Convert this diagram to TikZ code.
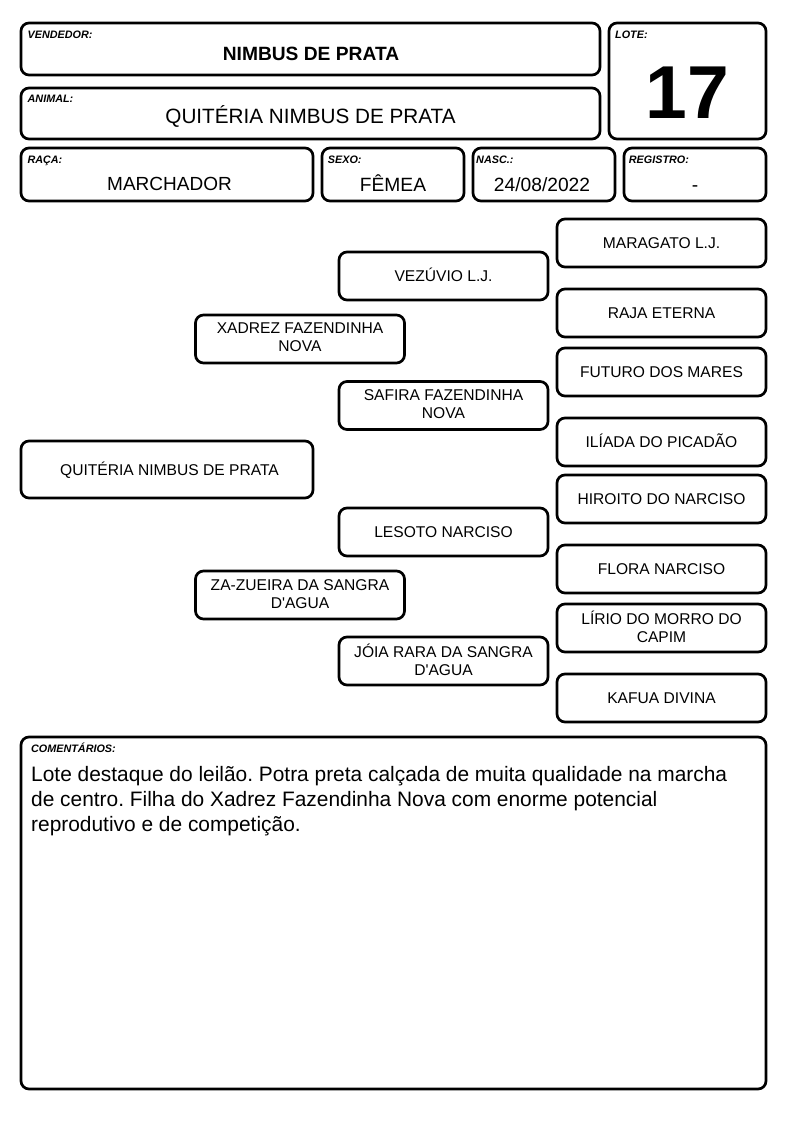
\documentclass[tikz,border=0pt]{standalone}
\usepackage{fontspec}
\setmainfont{Liberation Sans}[Ligatures=TeXOff]
\newcommand\pedtop{\rule{0pt}{14pt}}
\newcommand\pedbot{\rule[-2.9pt]{0pt}{0pt}}
\frenchspacing
\begin{document}
\begin{tikzpicture}[x=1pt,y=-1pt,
  box/.style={draw=black, line width=2.7pt, rounded corners=8pt, inner sep=0pt},
  lbl/.style={anchor=base west, inner sep=0pt, font=\fontsize{10.8}{12}\selectfont\bfseries\itshape},
  val/.style={anchor=base, inner sep=0pt, font=\fontsize{19.2}{22}\selectfont},
  ped/.style={box, align=center, minimum width=209pt, minimum height=48pt,
    font=\fontsize{15.6}{18}\selectfont,
    execute at begin node=\pedtop, execute at end node=\pedbot},
]
\useasboundingbox (0,0) rectangle (794,1123);
\fill[white] (0,0) rectangle (794,1123);

% header boxes
\node[box, minimum width=579pt, minimum height=52pt] (vend) at (310.5,49) {};
\node[lbl] (vendl) at (27.5,39) {VENDEDOR:};
\node[val, font=\fontsize{19.2}{22}\selectfont\bfseries] (vendv) at (311,60.5) {NIMBUS DE PRATA};

\node[box, minimum width=579pt, minimum height=51pt] (anim) at (310.5,113.5) {};
\node[lbl] (animl) at (27.5,103) {ANIMAL:};
\node[val, font=\fontsize{20.7}{24}\selectfont] (animv) at (310.5,123.5) {QUITÉRIA NIMBUS DE PRATA};

\node[box, minimum width=157pt, minimum height=116pt] (lote) at (687.5,81) {};
\node[lbl] (lotel) at (615,39) {LOTE:};
\node[val, font=\fontsize{75}{80}\selectfont\bfseries] (lotev) at (687.5,119) {17};

\node[box, minimum width=292pt, minimum height=53pt] (raca) at (167,174.5) {};
\node[lbl] (racal) at (27.3,163.5) {RAÇA:};
\node[val, font=\fontsize{19}{22}\selectfont] (racav) at (169.5,191) {MARCHADOR};

\node[box, minimum width=142pt, minimum height=53pt] (sexo) at (393,174.5) {};
\node[lbl] (sexol) at (327.7,164) {SEXO:};
\node[val] (sexov) at (393,192) {FÊMEA};

\node[box, minimum width=142pt, minimum height=53pt] (nasc) at (544,174.5) {};
\node[lbl] (nascl) at (476,164) {NASC.:};
\node[val] (nascv) at (542,192) {24/08/2022};

\node[box, minimum width=142pt, minimum height=53pt] (reg) at (695,174.5) {};
\node[lbl] (regl) at (628.7,164) {REGISTRO:};
\node[val] (regv) at (695,192) {-};

% pedigree
\node[ped, minimum width=292pt, minimum height=57pt] (quit) at (167,469.5) {\hspace{5pt}QUITÉRIA NIMBUS DE PRATA};

\node[ped] (xad) at (300,339) {XADREZ FAZENDINHA\\NOVA};
\node[ped] (zaz) at (300,595) {ZA-ZUEIRA DA SANGRA\\D'AGUA};

\node[ped] (vez) at (443.5,276) {VEZÚVIO L.J.};
\node[ped] (saf) at (443.5,405.5) {SAFIRA FAZENDINHA\\NOVA};
\node[ped] (les) at (443.5,532) {LESOTO NARCISO};
\node[ped] (joi) at (443.5,661) {JÓIA RARA DA SANGRA\\D'AGUA};

\node[ped] (mar) at (661.5,243) {MARAGATO L.J.};
\node[ped] (raj) at (661.5,313) {RAJA ETERNA};
\node[ped] (fut) at (661.5,372) {FUTURO DOS MARES};
\node[ped] (ili) at (661.5,442) {ILÍADA DO PICADÃO};
\node[ped] (hir) at (661.5,499) {HIROITO DO NARCISO};
\node[ped] (flo) at (661.5,569) {FLORA NARCISO};
\node[ped] (lir) at (661.5,628) {LÍRIO DO MORRO DO\\CAPIM};
\node[ped] (kaf) at (661.5,698) {KAFUA DIVINA};

% comments
\node[box, minimum width=745pt, minimum height=352pt] (com) at (393.5,913) {};
\node[lbl] (coml) at (31,752.3) {COMENTÁRIOS:};
\node[anchor=north west, inner sep=0pt, align=left, font=\fontsize{20.9}{25}\selectfont] (comt) at (31,766.5)
  {Lote destaque do leilão. Potra preta calçada de muita qualidade na marcha\\
   de centro. Filha do Xadrez Fazendinha Nova com enorme potencial\\
   reprodutivo e de competição.};
\end{tikzpicture}
\end{document}
